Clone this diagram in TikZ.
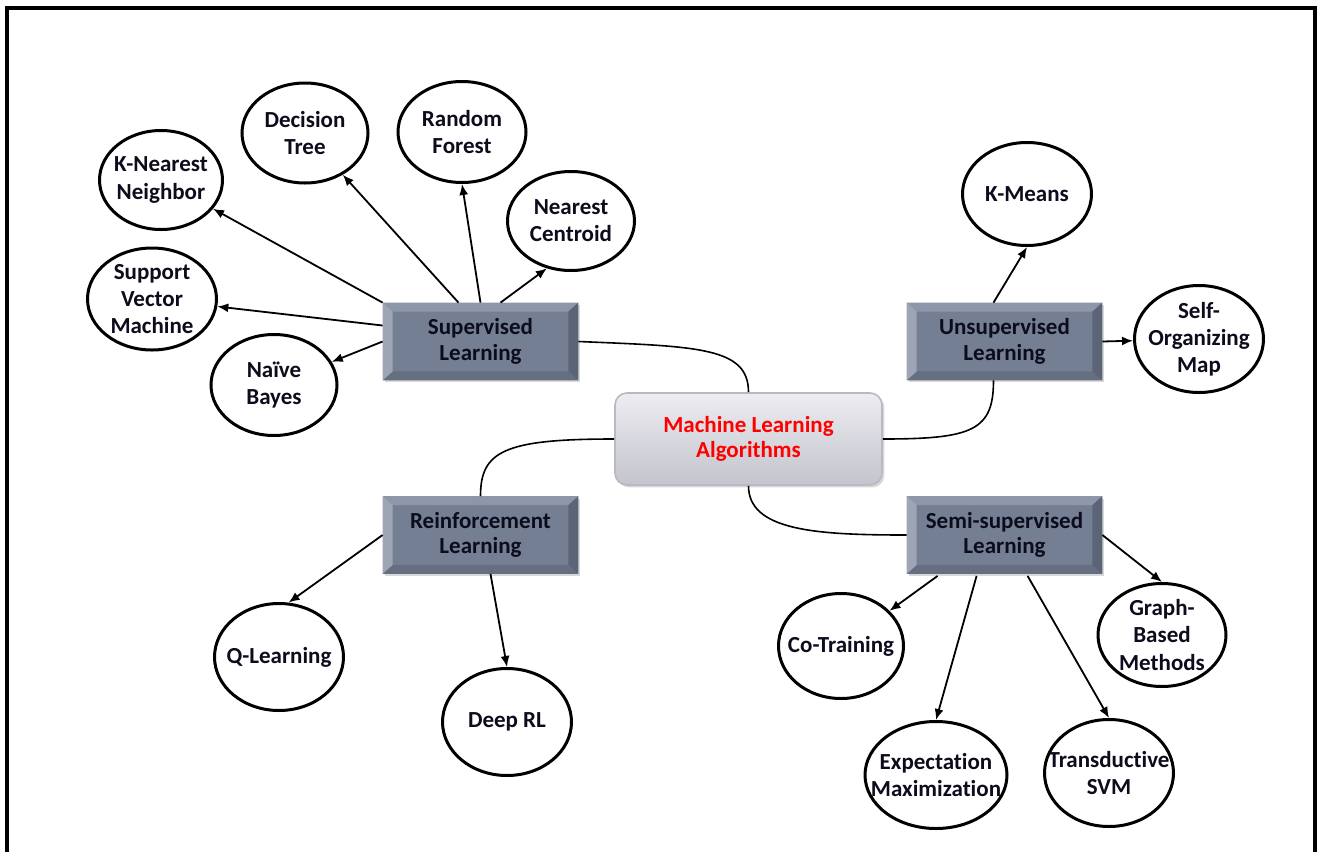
\documentclass[tikz,border=0pt]{standalone}
\usepackage{fontspec}
\setmainfont{Carlito}[Ligatures=NoCommon]
\usetikzlibrary{arrows.meta,shapes.geometric,calc,shadows}
\definecolor{face}{RGB}{116,127,148}
\definecolor{bvtop}{RGB}{142,151,169}
\definecolor{bvleft}{RGB}{158,166,182}
\definecolor{bvright}{RGB}{92,101,119}
\definecolor{bvbot}{RGB}{102,111,129}
\definecolor{ctrtop}{RGB}{236,236,241}
\definecolor{ctrbot}{RGB}{196,196,206}
\definecolor{ctrline}{RGB}{185,185,195}
\definecolor{boxtext}{RGB}{12,12,28}
\newcommand\bevelbox[1]{%
  \fill[bvtop] (#1.north west) -- (#1.north east) -- ([xshift=-5pt,yshift=-4.5pt]#1.north east) -- ([xshift=5pt,yshift=-4.5pt]#1.north west) -- cycle;
  \fill[bvbot] (#1.south west) -- (#1.south east) -- ([xshift=-5pt,yshift=4.5pt]#1.south east) -- ([xshift=5pt,yshift=4.5pt]#1.south west) -- cycle;
  \fill[bvleft] (#1.north west) -- ([xshift=5pt,yshift=-4.5pt]#1.north west) -- ([xshift=5pt,yshift=4.5pt]#1.south west) -- (#1.south west) -- cycle;
  \fill[bvright] (#1.north east) -- ([xshift=-5pt,yshift=-4.5pt]#1.north east) -- ([xshift=-5pt,yshift=4.5pt]#1.south east) -- (#1.south east) -- cycle;
}
\tikzset{
  ell/.style={ellipse, draw=black, line width=1.5pt, inner sep=0pt, fill=white},
  every label/.style={font=\fontsize{11.5}{13.6}\selectfont\bfseries, align=center, inner sep=0pt, text=boxtext},
  mlbox/.style={rectangle, fill=face, inner sep=0pt, minimum width=97.5pt, minimum height=38.5pt,
    font=\fontsize{11.5}{12.8}\selectfont\bfseries, align=center, text=boxtext,
    drop shadow={shadow xshift=1.2pt, shadow yshift=-1.2pt, fill=black!30, opacity=0.5}},
  ctrbox/.style={rectangle, rounded corners=6pt, minimum width=133.5pt, minimum height=46pt,
    top color=ctrtop, bottom color=ctrbot, draw=ctrline, line width=0.8pt,
    font=\fontsize{11.5}{12.8}\selectfont\bfseries, align=center, text=red,
    drop shadow={shadow xshift=1.2pt, shadow yshift=-1.2pt, fill=black!30, opacity=0.5}},
  arr/.style={line width=0.9pt, -{Latex[length=5.5pt,width=4.5pt]}},
  curve/.style={line width=0.8pt},
}
\begin{document}
\begin{tikzpicture}[x=0.5pt,y=-0.5pt]
\useasboundingbox (0,0) rectangle (1319,852);
% frame
\draw[line width=2pt] (7,853) -- (7,8) -- (1314.5,8) -- (1314.5,853);

% category boxes
\node[mlbox] (sup) at (480.5,341.5) {Supervised\\Learning};
\node[mlbox] (uns) at (1004.5,341.5) {Unsupervised\\Learning};
\node[mlbox] (rl) at (480.5,535) {Reinforcement\\Learning};
\node[mlbox] (semi) at (1004.5,535) {Semi-supervised\\Learning};
\bevelbox{sup}\bevelbox{uns}\bevelbox{rl}\bevelbox{semi}

% center
\node[ctrbox] (ctr) at (748.5,439) {Machine Learning\\Algorithms};

% ellipses
\node[ell, minimum width=61.5pt, minimum height=49.5pt, label={center:{K-Nearest\\Neighbor}}] (knn) at (161,180) {};
\node[ell, minimum width=63pt, minimum height=50pt, label={center:{Decision\\Tree}}] (dt) at (305,133) {};
\node[ell, minimum width=64pt, minimum height=50.5pt, label={center:{Random\\Forest}}] (rf) at (462,132) {};
\node[ell, minimum width=63.5pt, minimum height=49.5pt, label={center:{Nearest\\Centroid}}] (nc) at (571,221) {};
\node[ell, minimum width=64.5pt, minimum height=51pt, label={center:{Support\\Vector\\Machine}}] (svm) at (152,299) {};
\node[ell, minimum width=63pt, minimum height=50.5pt, label={center:{Naïve\\Bayes}}] (nb) at (274,385) {};
\node[ell, minimum width=64.5pt, minimum height=51.5pt, label={center:{K-Means}}] (km) at (1027,194) {};
\node[ell, minimum width=64.5pt, minimum height=53.5pt, label={center:{Self-\\Organizing\\Map}}] (som) at (1199,339) {};
\node[ell, minimum width=64.5pt, minimum height=53.5pt, label={center:{Q-Learning}}] (ql) at (279,657) {};
\node[ell, minimum width=64.5pt, minimum height=53.5pt, label={center:{Deep RL}}] (drl) at (507,722) {};
\node[ell, minimum width=62.5pt, minimum height=52.5pt, label={center:{Co-Training}}] (ct) at (841,646) {};
\node[ell, minimum width=64pt, minimum height=51.5pt, label={center:{Graph-\\Based\\Methods}}] (gb) at (1162,635) {};
\node[ell, minimum width=71pt, minimum height=53.5pt, label={center:{Expectation\\Maximization}}] (em) at (936,775) {};
\node[ell, minimum width=64.5pt, minimum height=53.5pt, label={center:{Transductive\\SVM}}] (ts) at (1109,773) {};

% curves from center
\draw[curve] (sup.east) .. controls +(120,5) and +(0,-45) .. (ctr.north);
\draw[curve] (ctr.east) .. controls +(90,0) and +(0,50) .. ($(uns.south)+(-11,0)$);
\draw[curve] (ctr.west) .. controls +(-110,0) and +(0,-45) .. (rl.north);
\draw[curve] (ctr.south) .. controls +(0,45) and +(-90,0) .. (semi.west);

% supervised arrows
\draw[arr] (sup.north west) -- (knn);
\draw[arr] ($(sup.north)+(-22,0)$) -- (dt);
\draw[arr] (sup.north) -- (rf.south);
\draw[arr] ($(sup.north)+(20,0)$) -- (nc.243);
\draw[arr] ($(sup.west)+(0,-16)$) -- (svm);
\draw[arr] (sup.west) -- (nb);
% unsupervised
\draw[arr] ($(uns.north)+(-11,0)$) -- (km.south);
\draw[arr] (uns.east) -- (som);
% reinforcement
\draw[arr] (rl.west) -- (ql.80);
\draw[arr] ($(rl.south)+(10,0)$) -- (drl.north);
% semi-supervised
\draw[arr] ($(semi.south west)+(31,2)$) -- (ct);
\draw[arr] ($(semi.south west)+(70,2)$) -- (em.north);
\draw[arr] ($(semi.south west)+(121,2)$) -- (ts.north);
\draw[arr] (semi.east) -- (gb.north);
\end{tikzpicture}
\end{document}
